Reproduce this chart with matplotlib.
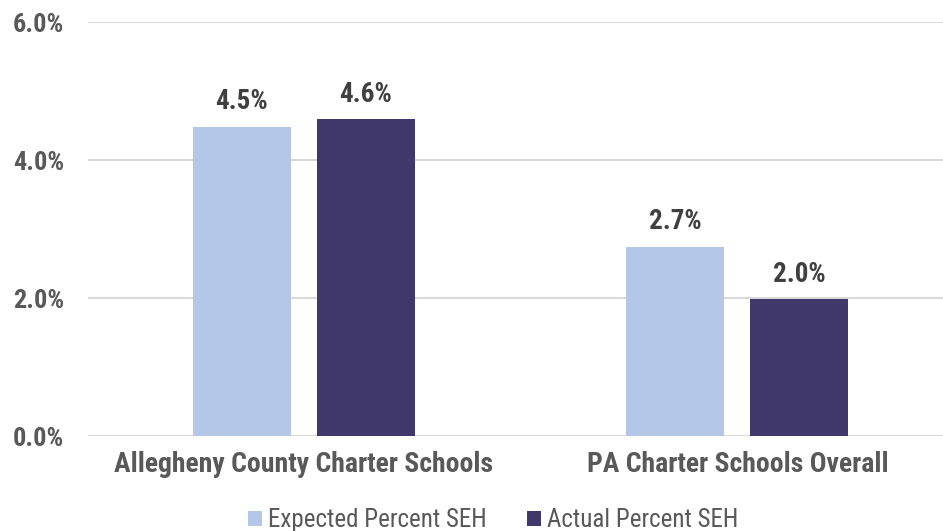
import numpy as np
import matplotlib
matplotlib.use("Agg")
import matplotlib.pyplot as plt

# Data
categories = ['Allegheny County Charter Schools', 'PA Charter Schools Overall']
expected = [4.48, 2.74]
actual = [4.59, 1.98]
series_names = ['Expected Percent SEH', 'Actual Percent SEH']
yticks = [0, 2, 4, 6]

plt.rcParams['font.family'] = ['Roboto Condensed', 'DejaVu Sans']

light = '#B4C7E7'
dark = '#40376A'
grey = '#595959'

fig = plt.figure(figsize=(9.43, 5.31), dpi=100)
ax = fig.add_axes([88 / 943, (531 - 436) / 531, 855 / 943, 414 / 531])

x = np.arange(len(categories))
w = 0.226
off = 0.143
b1 = ax.bar(x - off, expected, w, color=light, label=series_names[0], zorder=3)
b2 = ax.bar(x + off, actual, w, color=dark, label=series_names[1], zorder=3)

for bars in (b1, b2):
    for r in bars:
        ax.text(r.get_x() + r.get_width() / 2, r.get_height() + 0.17,
                f'{r.get_height():.1f}%', ha='center', va='bottom',
                fontsize=19.5, fontweight='bold', color='#404040')

ax.set_xlim(-0.498, 1.474)
ax.set_ylim(0, 6)
ax.set_yticks(yticks)
ax.set_yticklabels([f'{v:.1f}%' for v in yticks], fontsize=19,
                   fontweight='bold', color=grey)
ax.set_xticks(x)
ax.set_xticklabels(categories, fontsize=20, fontweight='bold', color=grey)
ax.tick_params(length=0)
ax.tick_params(axis='y', pad=17)
ax.tick_params(axis='x', pad=11)
ax.yaxis.grid(True, color='#D9D9D9', linewidth=1.5, zorder=0)
for s in ax.spines.values():
    s.set_visible(False)

leg = fig.legend(loc='lower center', bbox_to_anchor=(0.523, -0.045), ncol=2,
                 frameon=False, fontsize=18, handlelength=0.55,
                 handleheight=0.55, handletextpad=0.25, columnspacing=1.6)
for t in leg.get_texts():
    t.set_color(grey)

fig.savefig('out.png', dpi=100)
